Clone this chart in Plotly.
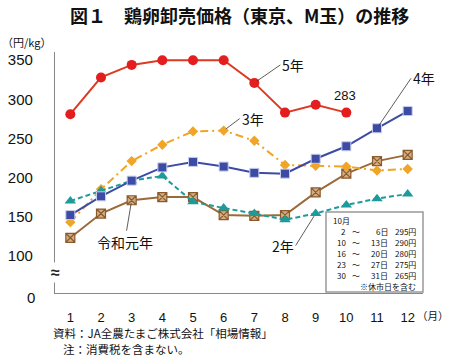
import plotly.graph_objects as go

months = list(range(1, 13))
month_labels = [str(m) for m in months]

r5 = [281, 328, 344, 350, 350, 350, 321, 283, 293, 283]
r4 = [152, 176, 196, 213, 220, 214, 206, 205, 224, 240, 263, 285]
r3 = [143, 185, 221, 242, 259, 260, 247, 216, 215, 214, 209, 211]
r2 = [170, 183, 196, 202, 169, 161, 154, 146, 154, 165, 173, 179]
r1 = [123, 154, 171, 175, 175, 152, 151, 152, 181, 205, 221, 229]

ytick_vals = [100, 150, 200, 250, 300, 350]
ytick_text = ["100", "150", "200", "250", "300", "350"]

oct_start = ["2", "10", "16", "23", "30"]
oct_end = ["6日", "13日", "20日", "27日", "31日"]
oct_price = ["295円", "290円", "280円", "275円", "265円"]

FONT = "Liberation Sans, Arial, Noto Sans CJK JP"
JFONT = "Noto Sans CJK JP, Liberation Sans"

fig = go.Figure()

fig.add_trace(go.Scatter(
    x=months, y=r1, mode="lines+markers",
    line=dict(color="#9C6A3A", width=2),
    marker=dict(symbol="square-x", size=9, color="#D2AE84",
                line=dict(color="#8B5A2B", width=1.2)),
))
fig.add_trace(go.Scatter(
    x=months, y=r3, mode="lines+markers",
    line=dict(color="#F0A526", width=2, dash="8px,4px,2px,4px"),
    marker=dict(symbol="diamond", size=8, color="#F0A526"),
))
fig.add_trace(go.Scatter(
    x=months, y=r2, mode="lines+markers",
    line=dict(color="#1E9A9A", width=2, dash="5px,3px"),
    marker=dict(symbol="triangle-up", size=10, color="#1E9A9A"),
))
fig.add_trace(go.Scatter(
    x=months, y=r4, mode="lines+markers",
    line=dict(color="#3B4BA6", width=2),
    marker=dict(symbol="square", size=9, color="#3B4BA6",
                line=dict(color="#C8CCE8", width=1)),
))
fig.add_trace(go.Scatter(
    x=months[:len(r5)], y=r5, mode="lines+markers",
    line=dict(color="#DC3A22", width=2),
    marker=dict(symbol="circle", size=10, color="#E41E1E"),
))

PW = 450 - 55 - 27
PH = 361 - 52 - 68


def px(xp):
    return (xp - 55) / PW


def py(yp):
    return (361 - 68 - yp) / PH


ann = []
ann.append(dict(text="<b>図１　鶏卵卸売価格（東京、M玉）の推移</b>", xref="paper", yref="paper",
                x=px(240), y=py(15), xanchor="center", yanchor="middle", showarrow=False,
                font=dict(size=18, family=JFONT, color="#111")))


def label(text, xpt, ypt, ax, ay, xanchor="left"):
    ann.append(dict(text=text, x=xpt, y=ypt, xref="x", yref="y", ax=ax, ay=ay,
                    axref="pixel", ayref="pixel", showarrow=True, arrowhead=0,
                    arrowwidth=0.8, arrowcolor="#333", standoff=3,
                    xanchor=xanchor, font=dict(size=14, family=JFONT, color="#111")))


label("5年", 7, r5[6], 26, -18)
label("4年", 11, r4[10], 34, -50)
label("3年", 6, r3[5], 16, -12)
label("令和元年", 3, r1[2], -7, 42, xanchor="center")
label("2年", 9, r2[8], -20, 32, xanchor="right")

ann.append(dict(text="283", x=10, y=r5[9], xref="x", yref="y", showarrow=False,
                yshift=8, xshift=-14, xanchor="left", yanchor="bottom",
                font=dict(size=13, family=FONT, color="#111")))

# y axis extras
ann.append(dict(text="（円/kg）", xref="paper", yref="paper", x=px(0), y=py(42),
                xanchor="left", yanchor="middle", showarrow=False,
                font=dict(size=11, family=JFONT, color="#111")))
ann.append(dict(text="0", xref="paper", y=py(297), yref="paper", x=px(37), xanchor="right",
                yanchor="middle", showarrow=False,
                font=dict(size=15, family=FONT, color="#111")))
ann.append(dict(text="<b>≈</b>", xref="paper", x=0, y=py(272), yref="paper", xanchor="center",
                yanchor="middle", showarrow=False, bgcolor="white",
                font=dict(size=16, family=FONT, color="#222")))
ann.append(dict(text="（月）", xref="paper", yref="paper", x=px(415), y=py(315),
                xanchor="left", yanchor="middle", showarrow=False,
                font=dict(size=10.5, family=JFONT, color="#111")))

# notes
ann.append(dict(text="資料：JA全農たまご株式会社「相場情報」", xref="paper", yref="paper",
                x=px(51), y=py(333), xanchor="left", yanchor="middle", showarrow=False,
                font=dict(size=11.5, family=JFONT, color="#111")))
ann.append(dict(text="注：消費税を含まない。", xref="paper", yref="paper",
                x=px(61), y=py(348.5), xanchor="left", yanchor="middle", showarrow=False,
                font=dict(size=11.5, family=JFONT, color="#111")))

# inset table
fig.add_shape(type="rect", xref="paper", yref="paper", x0=px(326), x1=px(423),
              y0=py(292), y1=py(212),
              line=dict(color="#999", width=1.5), fillcolor="white", layer="above")
tf = dict(size=8, family=JFONT, color="#111")
ann.append(dict(text="10月", x=px(331), y=py(220), xref="paper", yref="paper", xanchor="left",
                yanchor="middle", showarrow=False, font=tf))
for i in range(len(oct_start)):
    yp = 231 + i * 11
    ann.append(dict(text=oct_start[i], x=px(348), y=py(yp), xref="paper", yref="paper",
                    xanchor="right", yanchor="middle", showarrow=False, font=tf))
    ann.append(dict(text="～", x=px(356), y=py(yp), xref="paper", yref="paper",
                    xanchor="center", yanchor="middle", showarrow=False, font=tf))
    ann.append(dict(text=oct_end[i], x=px(390), y=py(yp), xref="paper", yref="paper",
                    xanchor="right", yanchor="middle", showarrow=False, font=tf))
    ann.append(dict(text=oct_price[i], x=px(418), y=py(yp), xref="paper", yref="paper",
                    xanchor="right", yanchor="middle", showarrow=False, font=tf))
ann.append(dict(text="※休市日を含む", x=px(418), y=py(286), xref="paper", yref="paper",
                xanchor="right", yanchor="middle", showarrow=False, font=tf))

fig.update_layout(
    width=450, height=361,
    margin=dict(l=55, r=27, t=52, b=68, autoexpand=False),
    paper_bgcolor="white", plot_bgcolor="white",
    showlegend=False,
    annotations=ann,
    font=dict(family=FONT, color="#111"),
)
fig.update_xaxes(range=[0.5, 12.5], tickvals=months, ticktext=month_labels,
                 showgrid=False, zeroline=False, showline=True, linecolor="#888",
                 linewidth=1.2, ticks="", ticklabelstandoff=12, automargin=False,
                 tickfont=dict(size=13, family=FONT, color="#111"))
fig.update_yaxes(range=[52.4, 360.5], tickvals=ytick_vals, ticktext=ytick_text,
                 showgrid=False, zeroline=False, showline=True, linecolor="#888",
                 linewidth=1.2, ticks="", ticklabelstandoff=18, automargin=False,
                 tickfont=dict(size=15, family=FONT, color="#111"))

fig.write_html("out.html", config={"displayModeBar": False},
               post_script="document.body.style.margin='0px';document.body.style.overflow='hidden';")
